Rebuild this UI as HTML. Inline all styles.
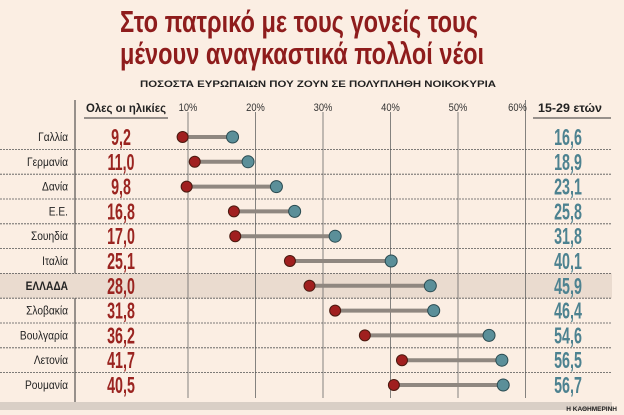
<!DOCTYPE html>
<html><head><meta charset="utf-8"><style>
html,body{margin:0;padding:0;background:#fbeee3;}
svg{display:block;font-family:"Liberation Sans Narrow","Liberation Sans",sans-serif;}
</style></head><body>
<svg id="chart" width="624" height="415" viewBox="0 0 624 415" xmlns="http://www.w3.org/2000/svg">
<rect x="0" y="0" width="624" height="415" fill="#fbeee3"/>
<text x="299" y="32" text-anchor="middle" font-size="31" font-weight="bold" fill="#8e1c1c" textLength="358" lengthAdjust="spacingAndGlyphs">Στο πατρικό με τους γονείς τους</text>
<text x="302" y="64" text-anchor="middle" font-size="31" font-weight="bold" fill="#8e1c1c" textLength="364" lengthAdjust="spacingAndGlyphs">μένουν αναγκαστικά πολλοί νέοι</text>
<text x="318" y="87" text-anchor="middle" font-size="9" font-weight="bold" fill="#222" textLength="356" lengthAdjust="spacingAndGlyphs">ΠΟΣΟΣΤΑ ΕΥΡΩΠΑΙΩΝ ΠΟΥ ΖΟΥΝ ΣΕ ΠΟΛΥΠΛΗΘΗ ΝΟΙΚΟΚΥΡΙΑ</text>
<text x="126" y="112" text-anchor="middle" font-size="12" font-weight="bold" fill="#222" textLength="80" lengthAdjust="spacingAndGlyphs">Ολες οι ηλικίες</text>
<line x1="84" y1="118" x2="168" y2="118" stroke="#333" stroke-width="1"/>
<text x="570" y="112" text-anchor="middle" font-size="12" font-weight="bold" fill="#222" textLength="64" lengthAdjust="spacingAndGlyphs">15-29 ετών</text>
<line x1="533" y1="118" x2="611" y2="118" stroke="#333" stroke-width="1"/>
<line x1="75" y1="100" x2="75" y2="407" stroke="#333" stroke-width="1"/>
<g id="grid"></g>
<g id="rows"></g>
<rect x="0" y="402" width="612" height="8" fill="#d9cfc6"/>
<text x="617" y="411" text-anchor="end" font-size="6.5" font-weight="bold" fill="#222">Η ΚΑΘΗΜΕΡΙΝΗ</text>
</svg>
<script>
const countries=["Γαλλία","Γερμανία","Δανία","Ε.Ε.","Σουηδία","Ιταλία","ΕΛΛΑΔΑ","Σλοβακία","Βουλγαρία","Λετονία","Ρουμανία"];
const allAges=[9.2,11.0,9.8,16.8,17.0,25.1,28.0,31.8,36.2,41.7,40.5];
const youth=[16.6,18.9,23.1,25.8,31.8,40.1,45.9,46.4,54.6,56.5,56.7];
const ticks=[10,20,30,40,50,60];
const NS="http://www.w3.org/2000/svg";
const x=v=>188+(v-10)*6.75;
const y=i=>137+i*24.8;
const fmt=v=>v.toFixed(1).replace('.',',');
function mk(tag,attrs,parent,text){const e=document.createElementNS(NS,tag);for(const k in attrs)e.setAttribute(k,attrs[k]);if(text!==undefined)e.textContent=text;parent.appendChild(e);return e;}
const grid=document.getElementById('grid'),rows=document.getElementById('rows');
const hi=countries.indexOf("ΕΛΛΑΔΑ");
const hr=mk('rect',{x:0,y:y(hi)-12.4,width:612,height:24.8,fill:'#eadbcf'},grid);


ticks.forEach(t=>{
 const l=mk('line',{x1:x(t),y1:t===60?100:112,x2:x(t),y2:398,stroke:'#666','stroke-width':0.8},grid);
 
 
 const tx=mk('text',{x:x(t)-(t===60?8:0),y:111,'text-anchor':'middle','font-size':11,fill:'#333',transform:'translate('+(x(t)-(t===60?8:0))*0.15+',0) scale(0.85,1)'},grid,t+'%');
 
 
});
countries.forEach((c,i)=>{
 const cy=y(i);
 if(i>0){const d=mk('line',{x1:0,y1:cy-12.4,x2:612,y2:cy-12.4,stroke:'#555','stroke-width':0.8,'stroke-dasharray':'2 1'},rows);
  
  }
 const lb=mk('text',{x:0,y:0,'text-anchor':'end','font-size':12,'font-weight':c==="ΕΛΛΑΔΑ"?'bold':'normal',fill:'#222',transform:'translate(68,'+(cy+4)+') scale(0.85,1)'},rows,c);
 
 
 const a=mk('text',{x:0,y:0,'text-anchor':'middle','font-size':23,'font-weight':'bold',fill:'#9a2420',transform:'translate(121,'+(cy+8)+') scale(0.62,1)'},rows,fmt(allAges[i]));
 
 
 const b=mk('text',{x:0,y:0,'text-anchor':'middle','font-size':23,'font-weight':'bold',fill:'#4d8290',transform:'translate(568,'+(cy+8)+') scale(0.62,1)'},rows,fmt(youth[i]));
 
 
 const ln=mk('line',{x1:x(allAges[i]),y1:cy,x2:x(youth[i]),y2:cy,stroke:'#8f8780','stroke-width':4},rows);
 
 
 const r=mk('circle',{cx:x(allAges[i]),cy:cy,r:5.5,fill:'#a01f1f',stroke:'#4a1a10','stroke-width':1},rows);
 
 
 const bl=mk('circle',{cx:x(youth[i]),cy:cy,r:6,fill:'#5b8f99',stroke:'#2a4a50','stroke-width':1},rows);
 
 
});
</script>
</body></html>
